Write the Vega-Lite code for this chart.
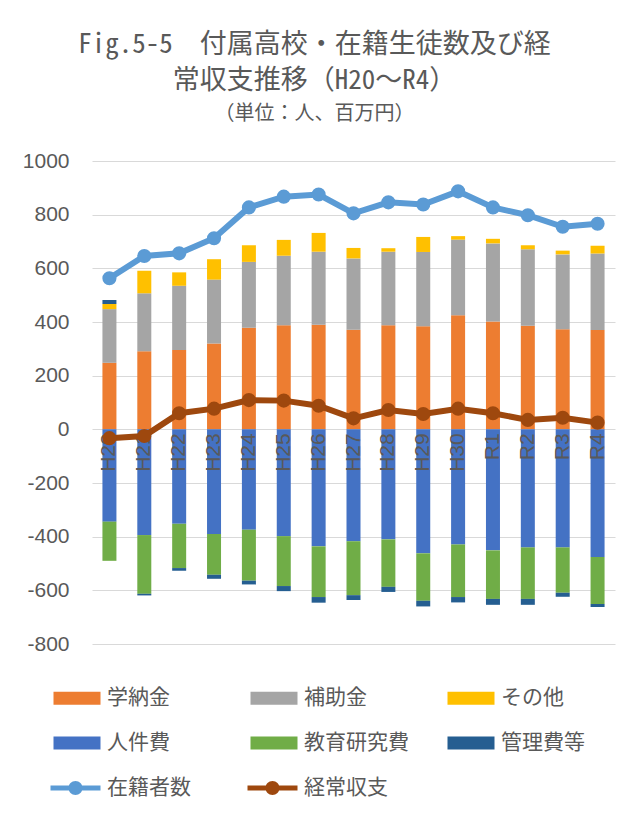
{
"$schema": "https://vega.github.io/schema/vega-lite/v6.json",
"width": 523, "height": 483,
"autosize": "none",
"padding": {"left": 92, "top": 161, "right": 28, "bottom": 176},
"background": "white",
"config": {"view": {"stroke": null}},
"title": {
  "text": ["Fig.5-5　付属高校・在籍生徒数及び経", "常収支推移（H20～R4）"],
  "subtitle": "（単位：人、百万円）",
  "anchor": "middle", "dx": -39,
  "font": "Noto Sans Mono CJK JP, Noto Sans CJK JP", "fontSize": 27, "fontWeight": "normal", "color": "#595959", "lineHeight": 36,
  "subtitleFont": "Noto Sans Mono CJK JP, Noto Sans CJK JP", "subtitleFontSize": 20, "subtitleColor": "#595959", "subtitlePadding": 9,
  "offset": 25
},
"datasets": {
  "bars": [
    {"年度":"H20","系列":"学納金","値":248},{"年度":"H20","系列":"補助金","値":200},{"年度":"H20","系列":"その他","値":19},{"年度":"H20","系列":"人件費","値":-344},{"年度":"H20","系列":"教育研究費","値":-146},{"年度":"H20","系列":"管理費等","値":15},
    {"年度":"H21","系列":"学納金","値":291},{"年度":"H21","系列":"補助金","値":216},{"年度":"H21","系列":"その他","値":84},{"年度":"H21","系列":"人件費","値":-394},{"年度":"H21","系列":"教育研究費","値":-219},{"年度":"H21","系列":"管理費等","値":-6},
    {"年度":"H22","系列":"学納金","値":296},{"年度":"H22","系列":"補助金","値":239},{"年度":"H22","系列":"その他","値":50},{"年度":"H22","系列":"人件費","値":-352},{"年度":"H22","系列":"教育研究費","値":-165},{"年度":"H22","系列":"管理費等","値":-10},
    {"年度":"H23","系列":"学納金","値":320},{"年度":"H23","系列":"補助金","値":238},{"年度":"H23","系列":"その他","値":76},{"年度":"H23","系列":"人件費","値":-390},{"年度":"H23","系列":"教育研究費","値":-152},{"年度":"H23","系列":"管理費等","値":-15},
    {"年度":"H24","系列":"学納金","値":379},{"年度":"H24","系列":"補助金","値":245},{"年度":"H24","系列":"その他","値":62},{"年度":"H24","系列":"人件費","値":-374},{"年度":"H24","系列":"教育研究費","値":-190},{"年度":"H24","系列":"管理費等","値":-14},
    {"年度":"H25","系列":"学納金","値":388},{"年度":"H25","系列":"補助金","値":259},{"年度":"H25","系列":"その他","値":59},{"年度":"H25","系列":"人件費","値":-398},{"年度":"H25","系列":"教育研究費","値":-186},{"年度":"H25","系列":"管理費等","値":-19},
    {"年度":"H26","系列":"学納金","値":390},{"年度":"H26","系列":"補助金","値":272},{"年度":"H26","系列":"その他","値":70},{"年度":"H26","系列":"人件費","値":-436},{"年度":"H26","系列":"教育研究費","値":-189},{"年度":"H26","系列":"管理費等","値":-21},
    {"年度":"H27","系列":"学納金","値":371},{"年度":"H27","系列":"補助金","値":266},{"年度":"H27","系列":"その他","値":39},{"年度":"H27","系列":"人件費","値":-417},{"年度":"H27","系列":"教育研究費","値":-201},{"年度":"H27","系列":"管理費等","値":-18},
    {"年度":"H28","系列":"学納金","値":388},{"年度":"H28","系列":"補助金","値":274},{"年度":"H28","系列":"その他","値":13},{"年度":"H28","系列":"人件費","値":-410},{"年度":"H28","系列":"教育研究費","値":-177},{"年度":"H28","系列":"管理費等","値":-19},
    {"年度":"H29","系列":"学納金","値":384},{"年度":"H29","系列":"補助金","値":277},{"年度":"H29","系列":"その他","値":56},{"年度":"H29","系列":"人件費","値":-462},{"年度":"H29","系列":"教育研究費","値":-177},{"年度":"H29","系列":"管理費等","値":-21},
    {"年度":"H30","系列":"学納金","値":425},{"年度":"H30","系列":"補助金","値":282},{"年度":"H30","系列":"その他","値":13},{"年度":"H30","系列":"人件費","値":-429},{"年度":"H30","系列":"教育研究費","値":-196},{"年度":"H30","系列":"管理費等","値":-20},
    {"年度":"R1","系列":"学納金","値":402},{"年度":"R1","系列":"補助金","値":291},{"年度":"R1","系列":"その他","値":17},{"年度":"R1","系列":"人件費","値":-451},{"年度":"R1","系列":"教育研究費","値":-181},{"年度":"R1","系列":"管理費等","値":-22},
    {"年度":"R2","系列":"学納金","値":386},{"年度":"R2","系列":"補助金","値":285},{"年度":"R2","系列":"その他","値":15},{"年度":"R2","系列":"人件費","値":-440},{"年度":"R2","系列":"教育研究費","値":-192},{"年度":"R2","系列":"管理費等","値":-22},
    {"年度":"R3","系列":"学納金","値":373},{"年度":"R3","系列":"補助金","値":279},{"年度":"R3","系列":"その他","値":14},{"年度":"R3","系列":"人件費","値":-440},{"年度":"R3","系列":"教育研究費","値":-169},{"年度":"R3","系列":"管理費等","値":-15},
    {"年度":"R4","系列":"学納金","値":370},{"年度":"R4","系列":"補助金","値":285},{"年度":"R4","系列":"その他","値":29},{"年度":"R4","系列":"人件費","値":-476},{"年度":"R4","系列":"教育研究費","値":-175},{"年度":"R4","系列":"管理費等","値":-11}
  ],
  "lines": [
    {"年度":"H20","系列":"在籍者数","値":563},{"年度":"H21","系列":"在籍者数","値":646},{"年度":"H22","系列":"在籍者数","値":656},{"年度":"H23","系列":"在籍者数","値":712},{"年度":"H24","系列":"在籍者数","値":827},{"年度":"H25","系列":"在籍者数","値":867},{"年度":"H26","系列":"在籍者数","値":875},{"年度":"H27","系列":"在籍者数","値":805},{"年度":"H28","系列":"在籍者数","値":846},{"年度":"H29","系列":"在籍者数","値":838},{"年度":"H30","系列":"在籍者数","値":887},{"年度":"R1","系列":"在籍者数","値":827},{"年度":"R2","系列":"在籍者数","値":798},{"年度":"R3","系列":"在籍者数","値":755},{"年度":"R4","系列":"在籍者数","値":766},
    {"年度":"H20","系列":"経常収支","値":-33},{"年度":"H21","系列":"経常収支","値":-25},{"年度":"H22","系列":"経常収支","値":60},{"年度":"H23","系列":"経常収支","値":77},{"年度":"H24","系列":"経常収支","値":109},{"年度":"H25","系列":"経常収支","値":107},{"年度":"H26","系列":"経常収支","値":88},{"年度":"H27","系列":"経常収支","値":41},{"年度":"H28","系列":"経常収支","値":72},{"年度":"H29","系列":"経常収支","値":57},{"年度":"H30","系列":"経常収支","値":77},{"年度":"R1","系列":"経常収支","値":60},{"年度":"R2","系列":"経常収支","値":35},{"年度":"R3","系列":"経常収支","値":43},{"年度":"R4","系列":"経常収支","値":25}
  ]
},
"layer": [
  {
    "data": {"name": "bars"},
    "transform": [{"calculate": "indexof(['学納金','補助金','その他','人件費','教育研究費','管理費等'], datum['系列'])", "as": "stack_order"}],
    "mark": {"type": "bar", "size": 14},
    "encoding": {
      "x": {"field": "年度", "type": "nominal", "axis": null,
            "scale": {"domain": ["H20","H21","H22","H23","H24","H25","H26","H27","H28","H29","H30","R1","R2","R3","R4"], "paddingInner": 0, "paddingOuter": 0}},
      "y": {"field": "値", "type": "quantitative", "stack": "zero",
            "scale": {"domain": [-800, 1000], "nice": false, "zero": false},
            "axis": {"values": [-800,-600,-400,-200,0,200,400,600,800,1000], "labelExpr": "'' + datum.value", "grid": true, "gridColor": "#d9d9d9", "gridWidth": 1.2, "domain": false, "ticks": false,
                     "labelFont": "Liberation Sans", "labelFontSize": 21, "labelColor": "#595959", "labelPadding": 23, "title": null}},
      "order": {"field": "stack_order", "type": "quantitative", "sort": "ascending"},
      "color": {"field": "系列", "type": "nominal",
                "scale": {"domain": ["学納金","補助金","その他","人件費","教育研究費","管理費等","在籍者数","経常収支"],
                          "range": ["#ED7D31","#A5A5A5","#FFC000","#4472C4","#70AD47","#255E91","#5B9BD5","#9E480E"]},
                "legend": {
                  "orient": "none", "legendX": -12, "legendY": 526.5, "direction": "horizontal", "columns": 3, "gridAlign": "all",
                  "columnPadding": 35, "rowPadding": 23, "padding": 0, "title": null,
                  "labelFont": "Noto Sans CJK JP", "labelFontSize": 21, "labelColor": "#595959", "labelOffset": 6, "labelLimit": 300,
                  "symbolSize": 400, "symbolStrokeWidth": 0, "symbolOpacity": 1,
                  "encode": {"symbols": {"update": {
                    "shape": [{"test": "datum.value === '在籍者数' || datum.value === '経常収支'", "value": "M-4,-0.25H1V0.25H-4Z M-2.2,0A0.7,0.7 0 1,1 -0.8,0A0.7,0.7 0 1,1 -2.2,0Z"}, {"value": "M-3.7,-0.65H1V0.65H-3.7Z"}],
                    "fill": {"scale": "color", "field": "value"},
                    "strokeWidth": {"value": 0},
                    "opacity": {"value": 1}
                  }}}
                }}
    }
  },
  {
    "data": {"name": "lines"},
    "transform": [{"filter": "datum['系列'] === '在籍者数'"}],
    "mark": {"type": "text", "angle": 270, "align": "right", "baseline": "middle", "dx": -4, "font": "Liberation Sans", "fontSize": 21, "color": "#595959"},
    "encoding": {
      "x": {"field": "年度", "type": "nominal"},
      "y": {"datum": 0, "type": "quantitative"},
      "text": {"field": "年度", "type": "nominal"}
    }
  },
  {
    "data": {"name": "lines"},
    "mark": {"type": "line", "strokeWidth": 6, "point": {"filled": true, "size": 200}},
    "encoding": {
      "x": {"field": "年度", "type": "nominal"},
      "y": {"field": "値", "type": "quantitative"},
      "color": {"field": "系列", "type": "nominal"}
    }
  }
]
}
